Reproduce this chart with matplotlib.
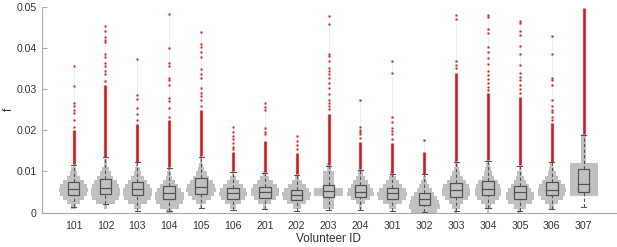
import numpy as np
import matplotlib.pyplot as plt

plt.rcParams['font.family'] = ['Liberation Sans', 'DejaVu Sans']

ids = ['101', '102', '103', '104', '105', '106', '201', '202', '203',
       '204', '301', '302', '303', '304', '305', '306', '307']

q1 = [0.0043, 0.0046, 0.0043, 0.0032, 0.0046, 0.0034, 0.0035, 0.0031, 0.0038,
      0.0038, 0.0034, 0.0019, 0.0039, 0.0042, 0.0034, 0.0042, 0.0050]
med = [0.0057, 0.0061, 0.0058, 0.0048, 0.0062, 0.0047, 0.0050, 0.0043, 0.0052,
       0.0051, 0.0047, 0.0032, 0.0054, 0.0058, 0.0050, 0.0056, 0.0070]
q3 = [0.0074, 0.0081, 0.0074, 0.0064, 0.0083, 0.0060, 0.0062, 0.0056, 0.0068,
      0.0066, 0.0060, 0.0048, 0.0073, 0.0076, 0.0064, 0.0074, 0.0107]
whisk_lo = [0.0013, 0.0020, 0.0005, 0.0003, 0.0012, 0.0007, 0.0009, 0.0005, 0.0007,
            0.0007, 0.0003, 0.0001, 0.0003, 0.0012, 0.0003, 0.0009, 0.0013]
whisk_hi = [0.0115, 0.0134, 0.0122, 0.0109, 0.0136, 0.0099, 0.0097, 0.0092, 0.0113,
            0.0103, 0.0095, 0.0093, 0.0123, 0.0125, 0.0113, 0.0122, 0.0189]

# outliers: a dense run just above the upper whisker, then single points
dense_top = [0.0200, 0.0310, 0.0215, 0.0225, 0.0250, 0.0148, 0.0175, 0.0145, 0.0240,
             0.0172, 0.0170, 0.0148, 0.0340, 0.0290, 0.0280, 0.0218, 0.0497]
sparse = [
    [0.0208, 0.0225, 0.0242, 0.0250, 0.0258, 0.0265, 0.0307, 0.0357],
    [0.0319, 0.0336, 0.0344, 0.0356, 0.0364, 0.0377, 0.0385, 0.0414, 0.0418, 0.0426, 0.0442, 0.0454],
    [0.0225, 0.0240, 0.0255, 0.0275, 0.0285, 0.0373],
    [0.0233, 0.0254, 0.0271, 0.0279, 0.0311, 0.0323, 0.0328, 0.0356, 0.0364, 0.0399, 0.0482],
    [0.0258, 0.0274, 0.0283, 0.0291, 0.0303, 0.0328, 0.0336, 0.0348, 0.0377, 0.0389, 0.0401, 0.0409, 0.0438],
    [0.0155, 0.0160, 0.0170, 0.0178, 0.0185, 0.0195, 0.0207],
    [0.0190, 0.0197, 0.0205, 0.0248, 0.0256, 0.0266],
    [0.0155, 0.0165, 0.0175, 0.0187],
    [0.0252, 0.0258, 0.0266, 0.0274, 0.0287, 0.0303, 0.0315, 0.0327, 0.0336, 0.0344,
     0.0352, 0.0368, 0.0381, 0.0385, 0.0458, 0.0478],
    [0.0182, 0.0190, 0.0196, 0.0201, 0.0209, 0.0274],
    [0.0180, 0.0190, 0.0198, 0.0205, 0.0221, 0.0233, 0.0340, 0.0368],
    [0.0176],
    [0.0350, 0.0358, 0.0368, 0.0470, 0.0480],
    [0.0298, 0.0306, 0.0315, 0.0325, 0.0335, 0.0345, 0.0360, 0.0375, 0.0389, 0.0401,
     0.0435, 0.0445, 0.0475, 0.0480],
    [0.0290, 0.0300, 0.0310, 0.0322, 0.0330, 0.0340, 0.0358, 0.0385, 0.0405, 0.0432,
     0.0442, 0.0460, 0.0465],
    [0.0225, 0.0232, 0.0245, 0.0250, 0.0258, 0.0274, 0.0310, 0.0323, 0.0327, 0.0385, 0.0428],
    [],
]

# violin half-widths (in category units) for bins of 0.001 starting at 0
bin_size = 0.001
violin_w = [
    [0, 0.08, 0.20, 0.33, 0.42, 0.45, 0.42, 0.32, 0.20, 0.12, 0.07, 0.03],
    [0, 0.05, 0.30, 0.42, 0.45, 0.45, 0.42, 0.35, 0.25, 0.16, 0.10, 0.06, 0.04, 0.02],
    [0.02, 0.12, 0.30, 0.42, 0.45, 0.45, 0.40, 0.30, 0.20, 0.12, 0.07, 0.03],
    [0.10, 0.30, 0.42, 0.46, 0.45, 0.38, 0.28, 0.18, 0.10, 0.06, 0.03],
    [0, 0.04, 0.15, 0.30, 0.42, 0.46, 0.44, 0.36, 0.26, 0.17, 0.10, 0.06, 0.03, 0.02],
    [0, 0.10, 0.25, 0.38, 0.44, 0.40, 0.30, 0.20, 0.10, 0.04],
    [0, 0.05, 0.20, 0.35, 0.43, 0.45, 0.38, 0.26, 0.14, 0.05],
    [0, 0.12, 0.30, 0.42, 0.46, 0.40, 0.28, 0.16, 0.07, 0.02],
    [0, 0.18, 0.18, 0.18, 0.46, 0.46, 0.18, 0.18, 0.18, 0.18, 0.06, 0.04],
    [0, 0.04, 0.15, 0.30, 0.43, 0.40, 0.30, 0.22, 0.14, 0.08, 0.03],
    [0, 0.12, 0.30, 0.44, 0.47, 0.42, 0.30, 0.20, 0.12, 0.06, 0.03],
    [0.40, 0.48, 0.46, 0.40, 0.32, 0.24, 0.16, 0.10, 0.05, 0.02],
    [0.03, 0.12, 0.22, 0.36, 0.45, 0.45, 0.40, 0.30, 0.20, 0.13, 0.08, 0.05, 0.03],
    [0.03, 0.10, 0.22, 0.34, 0.42, 0.42, 0.38, 0.30, 0.20, 0.13, 0.08, 0.05, 0.03],
    [0.05, 0.20, 0.38, 0.45, 0.44, 0.36, 0.28, 0.20, 0.13, 0.08, 0.04],
    [0, 0.08, 0.20, 0.34, 0.42, 0.44, 0.40, 0.30, 0.20, 0.13, 0.08, 0.04, 0.02],
    [0, 0, 0, 0, 0.44, 0.44, 0.44, 0.44, 0.44, 0.44, 0.44, 0.44, 0.08, 0.08, 0.08,
     0.08, 0.08, 0.08, 0.08],
]

violin_col = '#c0c0c0'
box_col = '#555555'
red = '#e3131b'

fig = plt.figure(figsize=(6.17, 2.47), dpi=100)
ax = fig.add_axes([0.0676, 0.139, 0.930, 0.834])

pos = np.arange(1, len(ids) + 1)
for i, p in enumerate(pos):
    w = np.array(violin_w[i])
    edges = np.arange(len(w) + 1) * bin_size
    ys = np.repeat(edges, 2)[1:-1]
    wr = np.repeat(w, 2)
    ax.fill(np.concatenate([p + wr, (p - wr)[::-1]]),
            np.concatenate([ys, ys[::-1]]), color=violin_col, lw=0, zorder=1)

    # faint guide above the whisker
    top = max([dense_top[i]] + sparse[i])
    ax.plot([p, p], [whisk_hi[i], top], color='#e6e6e6', lw=0.5, zorder=2)

    # whiskers
    ax.plot([p, p], [q3[i], whisk_hi[i]], color=box_col, lw=0.8, ls=(0, (3, 2)), zorder=3)
    ax.plot([p, p], [whisk_lo[i], q1[i]], color=box_col, lw=0.8, ls=(0, (3, 2)), zorder=3)
    for wv in (whisk_lo[i], whisk_hi[i]):
        ax.plot([p - 0.08, p + 0.08], [wv, wv], color=box_col, lw=0.8, zorder=3)

    # box
    ax.add_patch(plt.Rectangle((p - 0.18, q1[i]), 0.36, q3[i] - q1[i],
                               fill=False, ec=box_col, lw=0.9, zorder=4))
    ax.plot([p - 0.18, p + 0.18], [med[i], med[i]], color=box_col, lw=0.9, zorder=4)

    # outliers
    ax.plot([p, p], [whisk_hi[i] + 0.0002, dense_top[i]], color=red, lw=1.9,
            solid_capstyle='butt', zorder=5)
    if sparse[i]:
        ax.plot([p] * len(sparse[i]), sparse[i], ls='none', marker='s', ms=1.8,
                mfc=red, mec='none', zorder=5)

ax.set_xlim(0, len(ids) + 1)
ax.set_ylim(0, 0.05)
ax.set_xticks(pos)
ax.set_xticklabels(ids)
ax.set_yticks([0, 0.01, 0.02, 0.03, 0.04, 0.05])
ax.set_yticklabels(['0', '0.01', '0.02', '0.03', '0.04', '0.05'])
ax.tick_params(axis='x', length=0, pad=6, labelsize=7.6, labelcolor='#333333')
ax.tick_params(axis='y', direction='in', length=3.6, color='#aaaaaa', pad=3.6,
               labelsize=7.6, labelcolor='#333333')
for s in ['top', 'right']:
    ax.spines[s].set_visible(False)
for s in ['left', 'bottom']:
    ax.spines[s].set_color('#aaaaaa')
    ax.spines[s].set_linewidth(0.8)
ax.set_xlabel('Volunteer ID', fontsize=8.5, color='#333333', labelpad=1.5)
ax.set_ylabel('f', fontsize=8.5, color='#333333')
ax.yaxis.set_label_coords(-0.047, 0.5)

fig.savefig('out.png', dpi=100)
